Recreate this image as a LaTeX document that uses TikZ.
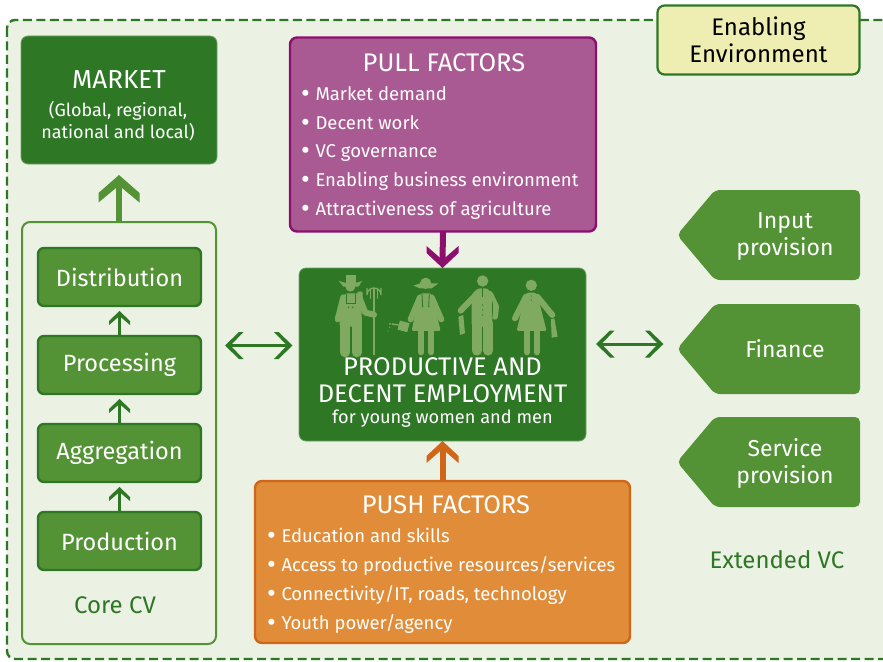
\documentclass[tikz,border=0pt]{standalone}
\usepackage{fontspec}
\setmainfont{Fira Sans}
\usetikzlibrary{calc}
\definecolor{dkg}{HTML}{2D7725}
\definecolor{mdg}{HTML}{549236}
\definecolor{ltg}{HTML}{EBF2E4}
\definecolor{fig}{HTML}{7FAA5F}
\definecolor{pur}{HTML}{8C0F6E}
\definecolor{pul}{HTML}{A95A92}
\definecolor{org}{HTML}{D0661A}
\definecolor{orf}{HTML}{E08C38}
\definecolor{yel}{HTML}{EEEEB2}
\tikzset{
 x=1pt,y=-1pt,
 every node/.style={inner sep=0pt,outer sep=0pt,align=center,text=white},
 dkbox/.style={fill=dkg,draw=dkg!70!white,line width=.8pt,rounded corners=7pt},
 stage/.style={fill=mdg,draw=dkg,line width=2.4pt,rounded corners=6pt,minimum width=163pt,minimum height=58pt,font=\fontsize{23.5}{27}\selectfont},
 side/.style={font=\fontsize{23}{27}\selectfont,text width=110pt},
 sidebox/.style={fill=mdg,rounded corners=5pt},
 lbl/.style={text=dkg,font=\fontsize{24}{28}\selectfont},
 item/.style={anchor=base west,font=\fontsize{18.5}{22}\selectfont},
 head/.style={font=\fontsize{25.5}{29}\selectfont},
 limb/.style={line width=6pt,line cap=round,line join=round},
}
\newcommand{\bl}{\makebox[14.5pt][l]{\fontsize{27}{27}\selectfont\raisebox{-2.7pt}{\textbullet}}}
% chevron head: position, rotation, half width, depth, thickness, colour
\newcommand{\chev}[6]{\fill[#6,shift={(#1)},rotate=#2] (0,0) -- (#3,#4) -- (#3,#4+#5) -- (0,#5+1) -- (-#3,#4+#5) -- (-#3,#4) -- cycle;}
\begin{document}
\begin{tikzpicture}
\useasboundingbox (0,0) rectangle (883,661);
\fill[white] (0,0) rectangle (883,661);
\draw[dkg,fill=ltg,line width=2.4pt,dash pattern=on 9pt off 4.5pt,rounded corners=8pt] (7,20) rectangle (895,659);
\node (env) [fill=yel,draw=dkg,line width=2.2pt,rounded corners=7pt,minimum width=202pt,minimum height=69pt,text=black,font=\fontsize{24}{27}\selectfont] at (758.5,40) {Enabling\\Environment};
% market
\node (market) [dkbox,minimum width=196pt,minimum height=128pt] at (119,100) {};
\node (markett) [font=\fontsize{26}{29}\selectfont] at (119,80) {MARKET};
\node (markets) [font=\fontsize{18}{22}\selectfont] at (118,121.5) {(Global, regional,\\national and local)};
% core
\node (core) [draw=mdg,line width=2pt,rounded corners=8pt,minimum width=194pt,minimum height=422pt] at (119,433) {};
\node (dist) [stage] at (119.5,277) {\raisebox{-3pt}{Distribution}};
\node (proc) [stage] at (119.5,365) {\raisebox{-3pt}{Processing}};
\node (aggr) [stage] at (119.5,453) {\raisebox{-3pt}{Aggregation}};
\node (prod) [stage] at (119.5,541) {\raisebox{-3pt}{Production}};
\node (corel) [lbl] at (115,605) {Core CV};
\draw[mdg,line width=6pt] (core.north) -- (119,182);
\chev{119,175}{0}{20.5}{18}{9.5}{mdg}
\foreach \a/\b in {prod/aggr,aggr/proc,proc/dist}{
 \draw[dkg,line width=3pt] (\a) ++(0,-30) -- ($(\b)+(0,36)$);
 \path (\b) ++(0,34) coordinate (tip);
 \chev{tip}{0}{10.5}{10}{4}{dkg}
}
% pull
\node (pull) [fill=pul,draw=pur,line width=2.4pt,rounded corners=7pt,minimum width=306pt,minimum height=194pt] at (443,134.5) {};
\node (pullt) [head] at (444,63) {PULL FACTORS};
\node[item] at (301,100) {\bl Market demand};
\node[item] at (301,129) {\bl Decent work};
\node[item] at (301,157) {\bl VC governance};
\node[item] at (301,186) {\bl Enabling business environment};
\node[item] at (301,215) {\bl Attractiveness of agriculture};
% central
\node (emp) [dkbox,minimum width=287pt,minimum height=173pt] at (442.5,354.5) {};
\node (empt) [font=\fontsize{25.5}{26.5}\selectfont] at (442.5,380) {PRODUCTIVE AND\\DECENT EMPLOYMENT};
\node (emps) [font=\fontsize{18.2}{21}\selectfont] at (442.5,419) {for young women and men};
% people
\begin{scope}[shift={(290,220)},x=.3333pt,y=-.3333pt]
 % farmer
 \fill[fig] (168,165) rectangle (198,190);
 \fill[fig] (146,182) .. controls (165,192) and (200,192) .. (217,182) -- (205,200) -- (160,200) -- cycle;
 \fill[fig] (181,200) circle (15);
 \fill[fig,rounded corners=2pt] (165,220) -- (205,220) -- (214,240) -- (216,320) -- (187,320) -- (178,320) -- (149,320) -- (149,250) -- cycle;
 \draw[fig,limb] (160,232) -- (143,298);
 \draw[fig,limb] (208,232) -- (226,278) -- (252,284);
 \draw[fig,line width=10pt,line cap=round] (165,315) -- (165,397);
 \draw[fig,line width=10pt,line cap=round] (200,315) -- (200,397);
 \fill[fig,rounded corners=1pt] (202,215) rectangle (218,240);
 \draw[fig,line width=1.6pt] (252,405) -- (252,245);
 \draw[fig,line width=1.3pt,line cap=round] (231,205) -- (231,225) arc[start angle=180,end angle=360,x radius=21,y radius=21] -- (273,205);
 \draw[fig,line width=1.3pt,line cap=round] (252,205) -- (252,246);
 \draw[fig,line width=1.3pt,line cap=round] (241,205) -- (241,235);
 \draw[fig,line width=1.3pt,line cap=round] (263,205) -- (263,235);
 \draw[dkg,line width=.8pt] (168,222) -- (168,250) (195,222) -- (195,250) -- (168,250);
 \fill[dkg] (176,262) circle (2.5) (188,262) circle (2.5);
 % woman with can
 \fill[fig] (407,190) circle (17);
 \fill[fig] (370,197) -- (390,190) -- (445,190) -- (425,205) -- (390,205) -- cycle;
 \fill[fig,rounded corners=2pt] (390,220) -- (425,220) -- (432,250) -- (452,333) -- (365,333) -- (382,250) -- cycle;
 \draw[fig,limb] (390,232) -- (362,298);
 \draw[fig,limb] (425,232) -- (454,298);
 \draw[fig,line width=6pt,line cap=round] (394,330) -- (394,397);
 \draw[fig,line width=6pt,line cap=round] (423,330) -- (423,397);
 \fill[fig,rotate around={-15:(340,318)}] (326,305) rectangle (356,333);
 \draw[fig,line width=1.4pt] (326,315) -- (305,312);
 \fill[fig] (300,312) circle (3) (299,322) circle (2) (294,333) circle (2);
 \draw[dkg,line width=.8pt] (396,222) -- (398,258) (418,222) -- (416,258);
 \fill[dkg] (398,260) circle (2.5) (416,260) circle (2.5);
 % man
 \fill[fig] (578,183) circle (17);
 \fill[fig,rounded corners=3pt] (562,205) -- (594,205) -- (607,225) -- (607,320) -- (545,320) -- (545,225) -- cycle;
 \draw[fig,limb] (560,222) -- (512,272);
 \draw[fig,limb] (600,222) -- (618,260) -- (615,290);
 \draw[fig,line width=10pt,line cap=round] (560,310) -- (560,392);
 \draw[fig,line width=10pt,line cap=round] (594,310) -- (594,392);
 \fill[fig] (505,290) -- (520,285) -- (525,340) -- (510,345) -- cycle;
 \draw[dkg,line width=.9pt] (578,205) -- (578,232);
 \draw[dkg,line width=.7pt] (608,245) -- (607,290);
 \fill[dkg] (578,255) circle (2) (578,270) circle (2) (578,285) circle (2);
 % woman
 \fill[fig] (724,196) circle (17);
 \fill[fig,rounded corners=2pt] (708,218) -- (740,218) -- (750,255) -- (770,333) -- (680,333) -- (698,255) -- cycle;
 \draw[fig,limb] (708,230) -- (675,295);
 \draw[fig,limb] (742,230) -- (787,285);
 \draw[fig,line width=6pt,line cap=round] (711,330) -- (711,397);
 \draw[fig,line width=6pt,line cap=round] (740,330) -- (740,397);
 \fill[fig] (783,298) -- (793,295) -- (803,350) -- (785,353) -- cycle;
 \fill[dkg] (724,228) circle (2) (724,240) circle (2);
\end{scope}
% push
\node (push) [fill=orf,draw=org,line width=2.4pt,rounded corners=7pt,minimum width=375pt,minimum height=162pt] at (442.5,562) {};
\node (pusht) [head] at (446,505) {PUSH FACTORS};
\node[item] at (267,542) {\bl Education and skills};
\node[item] at (267,571) {\bl Access to productive resources/services};
\node[item] at (267,600) {\bl Connectivity/IT, roads, technology};
\node[item] at (267,629) {\bl Youth power/agency};
% arrows to employment
\draw[pur,line width=6pt] (pull.south) -- ($(emp.north)+(0,-6)$);
\chev{emp.north}{180}{16}{15}{7}{pur}
\draw[org,line width=6pt] (push.north) -- ($(emp.south)+(0,6)$);
\chev{emp.south}{0}{16}{15}{7}{org}
% side
\foreach \n/\y/\t/\o in {inp/235/{Input\\provision}/1.5,fin/349/{Finance}/0,ser/462/{Service\\provision}/1.5}{
 \fill[sidebox] (677,\y) -- (715,\y-45) -- (860,\y-45) -- (860,\y+45) -- (715,\y+45) -- cycle;
 \node (\n) [side] at (785,\y+\o) {\t};
}
\node (ext) [lbl] at (777,560) {Extended VC};
% double arrows
\coordinate (la) at (225,345.5); \coordinate (lb) at (292.5,345.5);
\coordinate (ra) at (596,344); \coordinate (rb) at (663.5,344);
\draw[dkg,line width=3pt] ($(la)+(4,0)$) -- ($(lb)+(-4,0)$);
\draw[dkg,line width=3pt] ($(ra)+(4,0)$) -- ($(rb)+(-4,0)$);
\chev{la}{90}{13.5}{14}{4.5}{dkg}
\chev{lb}{-90}{13.5}{14}{4.5}{dkg}
\chev{ra}{90}{13.5}{14}{4.5}{dkg}
\chev{rb}{-90}{13.5}{14}{4.5}{dkg}
\end{tikzpicture}
\end{document}
